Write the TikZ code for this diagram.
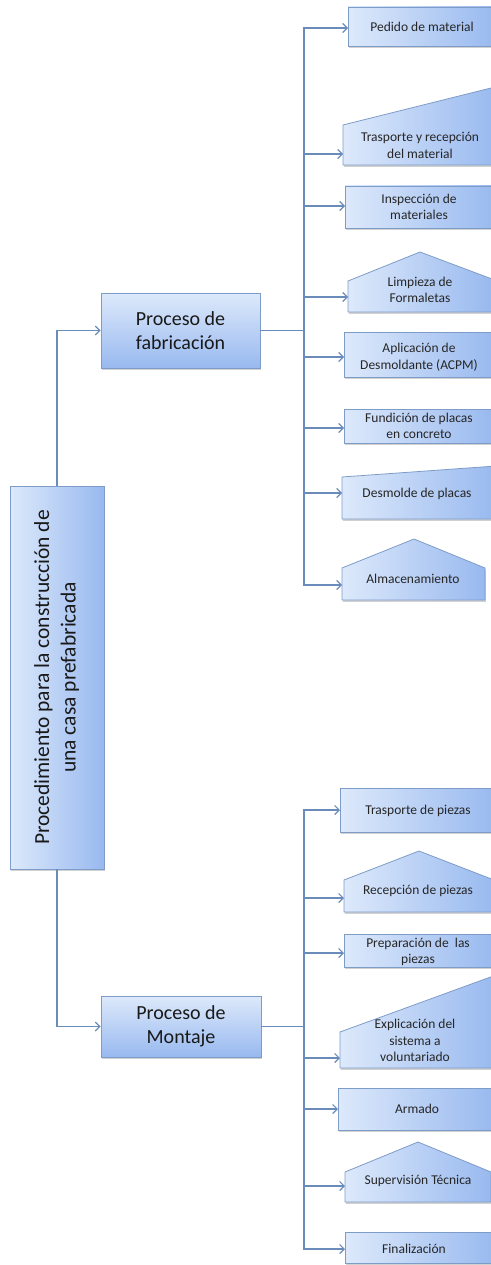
\documentclass[tikz,border=0pt]{standalone}
\usepackage{fontspec}
\setmainfont{Carlito}
\usetikzlibrary{arrows.meta,shadows}
\definecolor{boxL}{HTML}{DDE9FB}
\definecolor{boxR}{HTML}{98B9EF}
\definecolor{edgec}{HTML}{7E9CC8}
\definecolor{wire}{HTML}{6A8CBA}
\begin{document}
\begin{tikzpicture}[x=1pt,y=-1pt,
  shp/.style={left color=boxL, right color=boxR, draw=edgec, line width=0.8pt,
    drop shadow={shadow xshift=0.8pt,shadow yshift=-1.8pt,opacity=0.3,fill=black!60}},
  lbl/.style={font=\fontsize{13.5}{16.5}\selectfont, align=center, text=black!85, inner sep=0pt},
  procbox/.style={top color=boxL, bottom color=boxR, draw=edgec, line width=0.8pt,
    drop shadow={shadow xshift=0.8pt,shadow yshift=-1.8pt,opacity=0.3,fill=black!60},
    font=\fontsize{20}{24}\selectfont, align=center, text=black!90, inner sep=0pt},
  rootbox/.style={left color=boxL, right color=boxR, draw=edgec, line width=0.8pt,
    drop shadow={shadow xshift=0.8pt,shadow yshift=-1.8pt,opacity=0.3,fill=black!60},
    inner sep=0pt, text=black!90},
  wirel/.style={draw=wire, line width=1.2pt},
  arr/.style={wirel, -{Straight Barb[length=4.5pt,width=9pt]}}]
\useasboundingbox (0,0) rectangle (490,1265);

% root and process boxes
\node[rootbox, minimum width=94pt, minimum height=383pt] (root) at (57,677.5)
  {\rotatebox{90}{\fontsize{21.5}{26.5}\selectfont\begin{tabular}{@{}c@{}}Procedimiento para la construcción de\\una casa prefabricada\end{tabular}}};
\node[procbox, minimum width=159pt, minimum height=75pt] (pf) at (180.5,330.5) {Proceso de\\fabricación};
\node[procbox, minimum width=160pt, minimum height=61pt] (pm) at (181,1026.5) {Proceso de\\Montaje};

\coordinate (busF) at (304,0);

% fabrication children
\path[shp] (348,7) rectangle (496,46);
\node[lbl] (f1) at (422,27) {Pedido de material};
\coordinate (fa1) at (348,28);

\path[shp] (343,125) -- (497,86.5) -- (497,165) -- (343,165) -- cycle;
\node[lbl] (f2) at (420,145.5) {Trasporte y recepción\\del material};
\coordinate (fa2) at (343,154);

\path[shp] (345,186) rectangle (496,228);
\node[lbl] (f3) at (419,207) {Inspección de\\materiales};
\coordinate (fa3) at (345,206);

\path[shp] (348,312) -- (348,281) -- (420,252) -- (492,279) -- (492,312) -- cycle;
\node[lbl] (f4) at (420,290) {Limpieza de\\Formaletas};
\coordinate (fa4) at (348,297);

\path[shp] (344,332) rectangle (494,377);
\node[lbl] (f5) at (419,357) {Aplicación de\\Desmoldante (ACPM)};
\coordinate (fa5) at (344,357);

\path[shp] (344,409) rectangle (494,443);
\node[lbl] (f6) at (419,426) {Fundición de placas\\en concreto};
\coordinate (fa6) at (344,428);

\path[shp] (342,477) -- (496,466) -- (496,519) -- (342,519) -- cycle;
\node[lbl] (f7) at (417,494) {Desmolde de placas};
\coordinate (fa7) at (342,493);

\path[shp] (342,600) -- (342,568) -- (414,539) -- (485,568) -- (485,600) -- cycle;
\node[lbl] (f8) at (413,579) {Almacenamiento};
\coordinate (fa8) at (342,585);

% montaje children
\path[shp] (340,788) rectangle (496,832);
\node[lbl] (m1) at (418,811) {Trasporte de piezas};
\coordinate (ma1) at (340,810);

\path[shp] (344,912) -- (344,880) -- (419,851) -- (494,880) -- (494,912) -- cycle;
\node[lbl] (m2) at (418,891) {Recepción de piezas};
\coordinate (ma2) at (344,898);

\path[shp] (344,934) rectangle (494,967);
\node[lbl] (m3) at (418,952) {Preparación de\ \ las\\piezas};
\coordinate (ma3) at (344,953);

\path[shp] (340,1032) -- (496,975) -- (496,1068) -- (340,1068) -- cycle;
\node[lbl] (m4) at (415,1040.5) {Explicación del\\sistema a\\voluntariado};
\coordinate (ma4) at (340,1058);

\path[shp] (338,1088) rectangle (494,1130);
\node[lbl] (m5) at (417,1109) {Armado};
\coordinate (ma5) at (338,1109);

\path[shp] (345,1202) -- (345,1172) -- (418,1142) -- (491,1172) -- (491,1202) -- cycle;
\node[lbl] (m6) at (418,1181) {Supervisión Técnica};
\coordinate (ma6) at (345,1186);

\path[shp] (345,1232) rectangle (496,1263);
\node[lbl] (m7) at (414,1249) {Finalización};
\coordinate (ma7) at (345,1249);

% connectors
\draw[arr] (root.north) |- (pf.west);
\draw[arr] (root.south) |- (pm.west);
\draw[wirel] (pf.east) -- (pf.east -| busF);
\draw[wirel] (pm.east) -- (pm.east -| busF);
\draw[wirel, line cap=rect] (busF |- fa1) -- (busF |- fa8);
\draw[wirel, line cap=rect] (busF |- ma1) -- (busF |- ma7);
\foreach \i in {1,...,8} \draw[arr] (busF |- fa\i) -- (fa\i);
\foreach \i in {1,...,7} \draw[arr] (busF |- ma\i) -- (ma\i);
\end{tikzpicture}
\end{document}
